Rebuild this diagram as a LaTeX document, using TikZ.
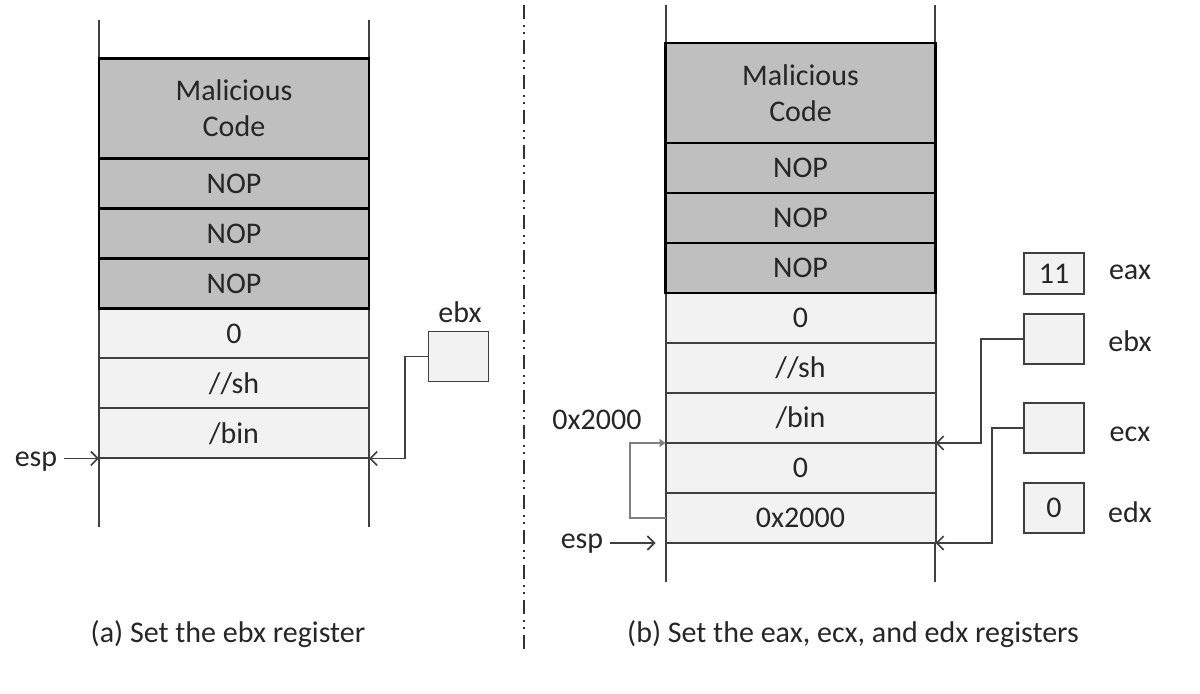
\documentclass[tikz,border=0pt]{standalone}
\usepackage{fontspec}
\setmainfont{Carlito}
\usetikzlibrary{positioning,arrows.meta}

\definecolor{codegray}{HTML}{BFBFBF}
\definecolor{cellgray}{HTML}{F2F2F2}
\definecolor{linegray}{HTML}{404040}
\definecolor{linkgray}{HTML}{808080}

\begin{document}
\begin{tikzpicture}[
  x=0.5pt, y=-0.5pt,
  font=\fontsize{15}{18}\selectfont, text=black!85,
  code/.style={draw=black, line width=1.2pt, fill=codegray,
               minimum width=135pt, minimum height=25pt, inner sep=0pt,
               outer sep=0pt, align=center},
  data/.style={draw=linegray, line width=1pt, fill=cellgray,
               minimum width=135pt, minimum height=25pt, inner sep=0pt,
               outer sep=0pt},
  reg/.style={draw=linegray, line width=0.8pt, fill=cellgray,
              minimum width=30pt, minimum height=25pt, inner sep=0pt},
  rail/.style={draw=linegray, line width=1pt},
  ptr/.style={draw=linegray, line width=0.8pt,
              -{Straight Barb[length=3.5pt,width=7pt]}},
  link/.style={draw=linkgray, line width=1pt,
               -{Triangle[length=3pt,width=4pt]}},
  sep/.style={draw=black!80, line width=0.9pt,
              dash pattern=on 7pt off 3pt on 1pt off 2.5pt on 1pt off 3pt},
  node distance=0pt
]
  \useasboundingbox (0,0) rectangle (1200,694);

  % (a) stack
  \draw[rail] (99,20) -- (99,527);
  \draw[rail] (369,20) -- (369,527);
  \node[data] (zeroA) at (234,333.5) {0};
  \node[data, below=of zeroA] (shA) {//sh};
  \node[data, below=of shA] (binA) {/bin};
  \node[code, above=of zeroA] (nopA3) {NOP};
  \node[code, above=of nopA3] (nopA2) {NOP};
  \node[code, above=of nopA2] (nopA1) {NOP};
  \node[code, minimum height=50pt, above=of nopA1] (malA) {Malicious\\Code};

  \node (ebxlabA) at (460,312) {ebx};
  \node[reg] (ebxA) at (458.5,356.5) {};
  \node (espA) at (36,462) {esp};

  \draw[ptr] (ebxA.west) -- ++(-23,0) |- (binA.south east);
  \draw[ptr] (espA.east |- binA.south) -- (binA.south west);

  \node (capA) at (228,634) {(a) Set the ebx register};

  % separator
  \draw[sep] (524,5) -- (524,650);

  % (b) stack
  \draw[rail] (666,5) -- (666,582);
  \draw[rail] (935,5) -- (935,582);
  \node[data] (zeroB) at (800.5,318) {0};
  \node[data, below=of zeroB] (shB) {//sh};
  \node[data, below=of shB] (binB) {/bin};
  \node[data, below=of binB] (zero2B) {0};
  \node[data, below=of zero2B] (hexB) {0x2000};
  \node[code, above=of zeroB] (nopB3) {NOP};
  \node[code, above=of nopB3] (nopB2) {NOP};
  \node[code, above=of nopB2] (nopB1) {NOP};
  \node[code, minimum height=50pt, above=of nopB1] (malB) {Malicious\\Code};

  \node[reg, minimum height=20.5pt] (eaxB) at (1054,273.5) {11};
  \node[reg] (ebxB) at (1054,339) {};
  \node[reg] (ecxB) at (1054,428) {};
  \node[reg] (edxB) at (1054,508) {0};
  \node (eaxlab) at (1130,272) {eax};
  \node (ebxlab) at (1130,341) {ebx};
  \node (ecxlab) at (1130,434) {ecx};
  \node (edxlab) at (1130,512) {edx};

  \node (addrB) at (597,420) {0x2000};
  \node (espB) at (582,544) {esp};

  \draw[ptr] (ebxB.west) -- ++(-42,0) |- (binB.south east);
  \draw[ptr] (ecxB.west) -- ++(-31,0) |- (hexB.south east);
  \draw[link] (hexB.west) -- ++(-36,0) |- (zero2B.north west);
  \draw[ptr, shorten >=5pt] (espB.east |- hexB.south) -- (hexB.south west);

  \node (capB) at (853,634) {(b) Set the eax, ecx, and edx registers};
\end{tikzpicture}
\end{document}
